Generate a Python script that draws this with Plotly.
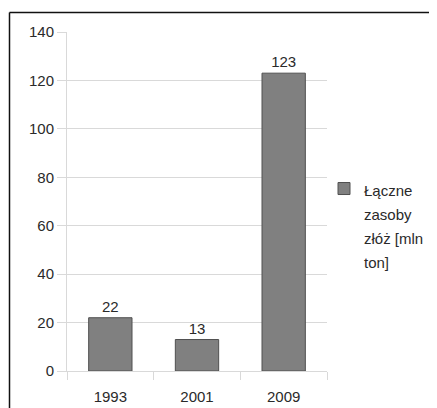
import plotly.graph_objects as go

categories = ["1993", "2001", "2009"]
values = [22, 13, 123]
legend_lines = ["Łączne", "zasoby", "złóż [mln", "ton]"]
y_ticks = [0, 20, 40, 60, 80, 100, 120, 140]

# the page body has an 8px default margin, so the figure starts at (8, 8)
OFF = 8
W, H = 437 - OFF, 408 - OFF
# plot area in page pixels: x 67..327, y 32..371
ml, mr, mt, mb = 67 - OFF, W - (327 - OFF), 32 - OFF, H - (371 - OFF)
pw = W - ml - mr
ph = H - mt - mb

def px2x(p):
    return (p - OFF - ml) / pw

def py2y(p):
    return (H - mb - (p - OFF)) / ph

FONT = "Liberation Sans, Arial, sans-serif"
TXT = "#2a2a2a"

series_name = "<br>".join(f"<span style='font-size:15px'>{s}</span>" for s in legend_lines)

fig = go.Figure()
fig.add_trace(go.Bar(
    x=categories, y=values, name=series_name,
    marker=dict(color="#808080", line=dict(color="#505050", width=1)),
    text=[str(v) for v in values], textposition="outside",
    textfont=dict(family=FONT, size=15, color=TXT),
    cliponaxis=False,
    showlegend=True,
))

grid = "#d9d9d9"
fig.update_layout(
    width=W, height=H,
    margin=dict(l=ml, r=mr, t=mt, b=mb, autoexpand=False),
    paper_bgcolor="white", plot_bgcolor="white",
    font=dict(family=FONT, size=15, color=TXT),
    bargap=0.5,
    showlegend=True,
    legend=dict(x=px2x(324), y=py2y(170), xanchor="left", yanchor="top",
                font=dict(size=18.5, color=TXT), valign="top",
                bgcolor="rgba(0,0,0,0)", tracegroupgap=0, itemwidth=30),
    xaxis=dict(showgrid=False, showline=True, linecolor=grid, linewidth=1,
               ticks="outside", ticklen=8, tickcolor=grid, tickson="boundaries",
               ticklabelstandoff=12,
               tickfont=dict(size=15, color=TXT), zeroline=False),
    yaxis=dict(range=[0, 140], tickvals=y_ticks, showgrid=True, gridcolor=grid,
               gridwidth=1, showline=True, linecolor=grid, linewidth=1,
               ticks="outside", ticklen=9, tickcolor=grid,
               tickfont=dict(size=15, color=TXT), zeroline=False),
    shapes=[
        dict(type="line", xref="paper", yref="paper",
             x0=px2x(9.5), x1=px2x(440), y0=py2y(12.5), y1=py2y(12.5),
             line=dict(color="#111111", width=1.5), layer="below"),
        dict(type="line", xref="paper", yref="paper",
             x0=px2x(9.5), x1=px2x(9.5), y0=py2y(12.5), y1=py2y(420),
             line=dict(color="#111111", width=1.5), layer="below"),
    ],
)
fig.write_html("out.html")
